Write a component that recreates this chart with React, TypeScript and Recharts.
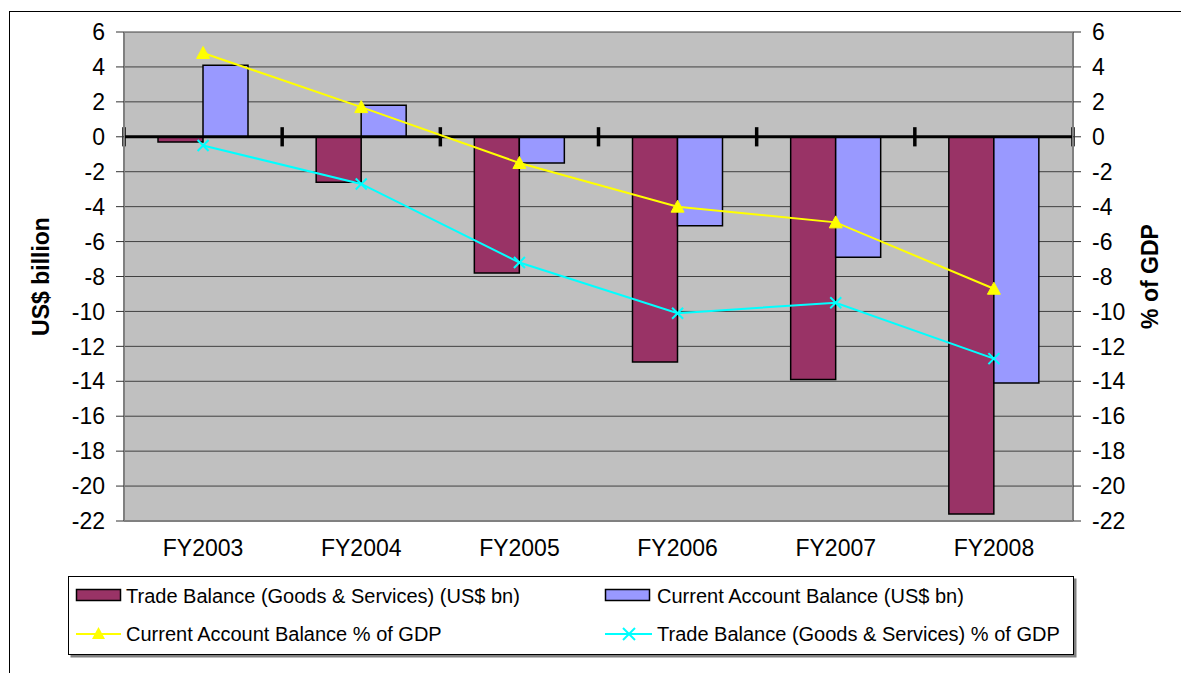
import React from 'react';
import { ComposedChart, Bar, Line, XAxis, YAxis, CartesianGrid, ReferenceLine, Legend } from 'recharts';

const categories = ['FY2003', 'FY2004', 'FY2005', 'FY2006', 'FY2007', 'FY2008'];
const tradeBalanceBn = [-0.3, -2.6, -7.8, -12.9, -13.9, -21.6];
const currentAccountBn = [4.1, 1.8, -1.5, -5.1, -6.9, -14.1];
const currentAccountPct = [4.8, 1.7, -1.5, -4.0, -4.9, -8.7];
const tradeBalancePct = [-0.5, -2.7, -7.2, -10.1, -9.5, -12.7];
const yTicks = [6, 4, 2, 0, -2, -4, -6, -8, -10, -12, -14, -16, -18, -20, -22];

const names = {
  tradeBn: 'Trade Balance (Goods & Services) (US$ bn)',
  caBn: 'Current Account Balance (US$ bn)',
  caPct: 'Current Account Balance % of GDP',
  tradePct: 'Trade Balance (Goods & Services) % of GDP',
};

const colors = {
  tradeBn: '#993366',
  caBn: '#9999FF',
  caPct: '#FFFF00',
  tradePct: '#00FFFF',
};

const data = categories.map((c, i) => ({
  category: c,
  tradeBn: tradeBalanceBn[i],
  caBn: currentAccountBn[i],
  caPct: currentAccountPct[i],
  tradePct: tradeBalancePct[i],
}));

// category-boundary tick marks on the zero axis: start of every band plus end of the last
const boundaryMarks = [
  ...categories.map((c) => ({ cat: c, position: 'start' as const })),
  { cat: categories[categories.length - 1], position: 'end' as const },
];

const FONT = '"Liberation Sans", Arial, sans-serif';

function TriangleDot(props: any) {
  const { cx, cy, index } = props;
  if (cx == null || cy == null) return <g key={`t${index}`} />;
  const s = 6.5;
  return (
    <polygon
      key={`t${index}`}
      points={`${cx},${cy - s} ${cx - s},${cy + s - 1} ${cx + s},${cy + s - 1}`}
      fill={colors.caPct}
      stroke={colors.caPct}
    />
  );
}

function CrossDot(props: any) {
  const { cx, cy, index } = props;
  if (cx == null || cy == null) return <g key={`x${index}`} />;
  const s = 5.5;
  return (
    <g key={`x${index}`} stroke={colors.tradePct} strokeWidth={2}>
      <line x1={cx - s} y1={cy - s} x2={cx + s} y2={cy + s} />
      <line x1={cx - s} y1={cy + s} x2={cx + s} y2={cy - s} />
    </g>
  );
}

function LegendBox() {
  const fs = 20;
  return (
    <svg width={1012} height={84} style={{ display: 'block', overflow: 'visible' }}>
      <rect x={2.5} y={2.5} width={1006} height={79} fill="#808080" />
      <rect x={0.5} y={0.5} width={1005} height={78} fill="#FFFFFF" stroke="#000" strokeWidth={1} />
      <g fontFamily={FONT} fontSize={fs} fill="#000">
        <rect x={8.5} y={13.5} width={44} height={11} fill={colors.tradeBn} stroke="#000" strokeWidth={1.5} />
        <text x={58} y={26.5}>{names.tradeBn}</text>
        <rect x={537.5} y={13.5} width={44} height={11} fill={colors.caBn} stroke="#000" strokeWidth={1.5} />
        <text x={589} y={26.5}>{names.caBn}</text>
        <line x1={8} y1={58} x2={53} y2={58} stroke={colors.caPct} strokeWidth={2} />
        <polygon points="30.5,51 24,63 37,63" fill={colors.caPct} />
        <text x={58} y={64.5}>{names.caPct}</text>
        <line x1={537} y1={58} x2={584} y2={58} stroke={colors.tradePct} strokeWidth={2} />
        <g stroke={colors.tradePct} strokeWidth={2}>
          <line x1={555} y1={52} x2={567} y2={64} />
          <line x1={555} y1={64} x2={567} y2={52} />
        </g>
        <text x={589} y={64.5}>{names.tradePct}</text>
      </g>
    </svg>
  );
}

export default function App() {
  const tickStyle = { fontSize: 23, fill: '#000', fontFamily: FONT };
  return (
    <div style={{ position: 'absolute', left: 0, top: 0, width: 1181, height: 673, overflow: 'hidden', background: '#fff' }}>
      <div
        style={{
          position: 'absolute',
          left: 9,
          top: 11,
          width: 1220,
          height: 720,
          border: '1.5px solid #000',
          boxSizing: 'border-box',
        }}
      />
      <div style={{ position: 'absolute', left: 0, top: 0 }}>
        <ComposedChart
          width={1181}
          height={673}
          data={data}
          margin={{ top: 32, right: 0, bottom: 112, left: 0 }}
          barCategoryGap="21.5%"
          barGap={0}
          style={{ fontFamily: FONT }}
        >
          <CartesianGrid yAxisId="left" xAxisId="cat" vertical={false} fill="#C0C0C0" fillOpacity={1} stroke="#404040" strokeWidth={1} />
          <XAxis
            xAxisId="cat"
            dataKey="category"
            height={40}
            tick={tickStyle}
            tickLine={false}
            tickSize={6}
            tickMargin={13}
            axisLine={{ stroke: '#808080', strokeWidth: 2 }}
            interval={0}
          />
          <YAxis
            yAxisId="left"
            width={124}
            domain={[-22, 6]}
            ticks={yTicks}
            interval={0}
            allowDataOverflow
            tick={tickStyle}
            tickSize={8}
            tickMargin={11}
            tickLine={{ stroke: '#333' }}
            axisLine={{ stroke: '#808080', strokeWidth: 2 }}
            label={{
              value: 'US$ billion',
              angle: -90,
              position: 'center',
              dx: -21,
              style: { fontWeight: 'bold', fontSize: 23, fill: '#000', fontFamily: FONT },
            }}
          />
          <YAxis
            yAxisId="right"
            orientation="right"
            width={108}
            domain={[-22, 6]}
            ticks={yTicks}
            interval={0}
            allowDataOverflow
            tick={tickStyle}
            tickSize={8}
            tickMargin={11}
            tickLine={{ stroke: '#333' }}
            axisLine={{ stroke: '#808080', strokeWidth: 2 }}
            label={{
              value: '% of GDP',
              angle: -90,
              position: 'center',
              dx: 23,
              style: { fontWeight: 'bold', fontSize: 23, fill: '#000', fontFamily: FONT },
            }}
          />
          <Bar
            xAxisId="cat"
            yAxisId="left"
            dataKey="tradeBn"
            name={names.tradeBn}
            fill={colors.tradeBn}
            stroke="#000"
            strokeWidth={1.5}
            isAnimationActive={false}
          />
          <Bar
            xAxisId="cat"
            yAxisId="left"
            dataKey="caBn"
            name={names.caBn}
            fill={colors.caBn}
            stroke="#000"
            strokeWidth={1.5}
            isAnimationActive={false}
          />
          <ReferenceLine xAxisId="cat" yAxisId="left" y={0} stroke="#000" strokeWidth={3} />
          {boundaryMarks.map((m, i) => (
            <ReferenceLine
              key={`b${i}`}
              xAxisId="cat"
              yAxisId="left"
              position={m.position}
              segment={[{ x: m.cat, y: 0.55 }, { x: m.cat, y: -0.55 }]}
              stroke="#000"
              strokeWidth={3.5}
              ifOverflow="visible"
            />
          ))}
          <Line
            xAxisId="cat"
            yAxisId="right"
            type="linear"
            dataKey="caPct"
            name={names.caPct}
            stroke={colors.caPct}
            strokeWidth={2}
            dot={TriangleDot}
            activeDot={false}
            isAnimationActive={false}
          />
          <Line
            xAxisId="cat"
            yAxisId="right"
            type="linear"
            dataKey="tradePct"
            name={names.tradePct}
            stroke={colors.tradePct}
            strokeWidth={2}
            dot={CrossDot}
            activeDot={false}
            isAnimationActive={false}
          />
          <Legend
            layout="vertical"
            align="center"
            verticalAlign="middle"
            wrapperStyle={{ left: 68, top: 576, width: 1012, height: 84, position: 'absolute' }}
            content={() => <LegendBox />}
          />
        </ComposedChart>
      </div>
    </div>
  );
}
